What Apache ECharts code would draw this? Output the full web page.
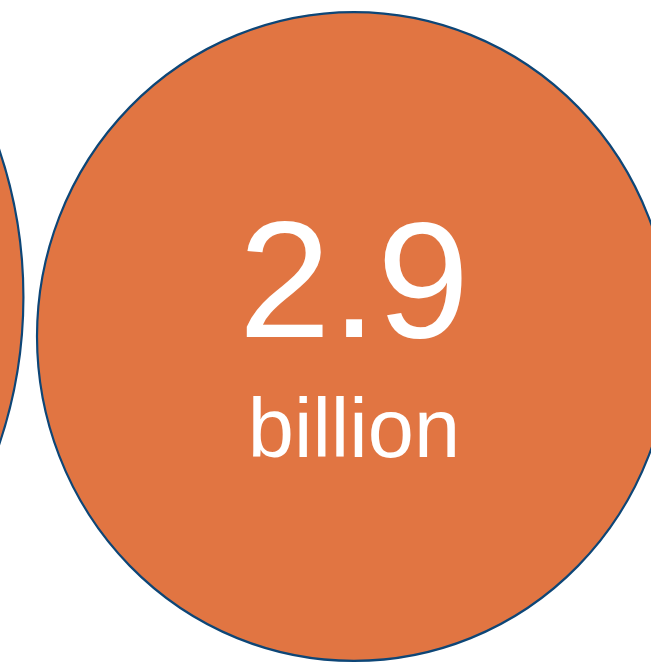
<!DOCTYPE html>
<html>
<head>
<meta charset="utf-8">
<script src="https://cdn.jsdelivr.net/npm/echarts@6/dist/echarts.min.js"></script>
<style>
  html, body { margin: 0; padding: 0; background: #ffffff; }
  #chart { width: 651px; height: 669px; }
</style>
</head>
<body>
<div id="chart"></div>
<script>
// Bubble row: each bubble's area is proportional to its value (billions)
const bubbleNames = ['Earlier', 'Latest'];
const bubbleX = [1, 2];
const bubbleY = [0.556, 0.497];
const bubbleValues = [5.6, 2.9];
const bubbleUnits = ['billion', 'billion'];
const bubbleLabelShown = [false, true];

// diameter (px) per sqrt(billion), and the slight horizontal squash of each bubble
const SIZE_K = 381;
const ASPECT = 0.977;

const chart = echarts.init(document.getElementById('chart'), null, { renderer: 'canvas' });

const data = bubbleValues.map((v, i) => ({
  name: bubbleNames[i],
  value: [bubbleX[i], bubbleY[i], v],
  unit: bubbleUnits[i],
  label: { show: bubbleLabelShown[i] }
}));

chart.setOption({
  animation: false,
  backgroundColor: '#ffffff',
  grid: { left: 0, right: 0, top: 0, bottom: 0 },
  xAxis: { type: 'value', min: 1.5409, max: 2.3853, show: false },
  yAxis: { type: 'value', min: 0, max: 1, show: false },
  series: [{
    type: 'scatter',
    clip: false,
    symbol: 'circle',
    symbolSize: function (val) {
      const d = SIZE_K * Math.sqrt(val[2]);
      return [d * ASPECT, d];
    },
    itemStyle: {
      color: '#E17542',
      borderColor: '#0D4677',
      borderWidth: 2.2,
      opacity: 1
    },
    emphasis: { disabled: true },
    label: {
      position: 'inside',
      offset: [0, 7],
      formatter: function (p) {
        return '{num|' + p.value[2].toFixed(1) + '}\n{unit|' + p.data.unit + '}';
      },
      rich: {
        num: {
          fontFamily: 'Liberation Sans, Arial, sans-serif',
          fontSize: 166,
          lineHeight: 181,
          color: '#ffffff'
        },
        unit: {
          fontFamily: 'Liberation Sans, Arial, sans-serif',
          fontSize: 83,
          lineHeight: 105,
          color: '#ffffff'
        }
      }
    },
    data: data
  }]
});
</script>
</body>
</html>
